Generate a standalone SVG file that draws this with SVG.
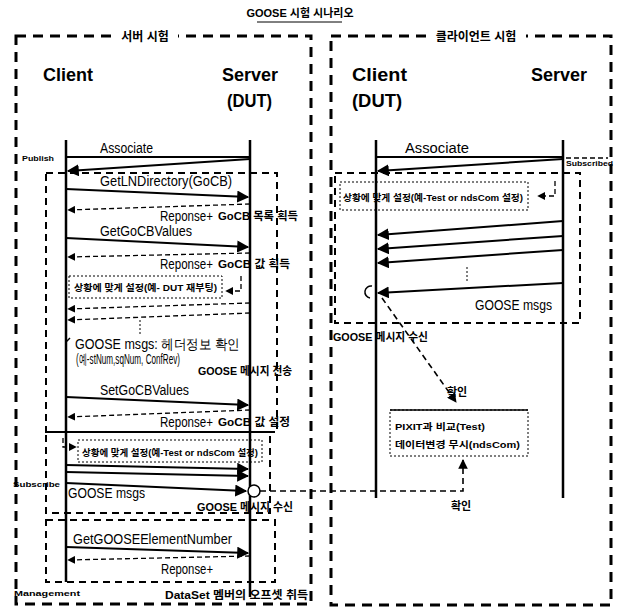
<svg xmlns="http://www.w3.org/2000/svg" width="617" height="616" viewBox="0 0 617 616">
<defs>
<style>
.outer{fill:none;stroke:#000;stroke-width:3;stroke-dasharray:10 7}
.inner{fill:none;stroke:#000;stroke-width:2;stroke-dasharray:7 5}
.dot{fill:none;stroke:#000;stroke-width:1;stroke-dasharray:2 2}
.life{stroke:#000;stroke-width:2.5}
.msg{stroke:#000;stroke-width:2;fill:none}
.ret{stroke:#000;stroke-width:1.3;stroke-dasharray:5 3;fill:none}
.lnk{stroke:#000;stroke-width:1.6;stroke-dasharray:6 4;fill:none}
.hd{font-family:"Liberation Sans",Arial,sans-serif;font-weight:bold;font-size:18px;fill:#000}
.m{font-family:"Liberation Sans",Arial,sans-serif;font-size:14px;fill:#000}
.kb{font-family:"Liberation Sans","Noto Sans CJK KR",sans-serif;font-weight:bold;font-size:11px;fill:#000}
.ks{font-family:"Liberation Sans","Noto Sans CJK KR",sans-serif;font-weight:bold;font-size:9.5px;fill:#000}
.lb{font-family:"Liberation Sans",Arial,sans-serif;font-weight:bold;font-size:8px;fill:#000}
.tt{font-family:"Liberation Sans","Noto Sans CJK KR",sans-serif;font-weight:bold;font-size:12px;fill:#000}
</style>
<marker id="ah" viewBox="0 0 10 10" refX="9" refY="5" markerWidth="6" markerHeight="6" orient="auto-start-reverse">
<path d="M0,0 L10,5 L0,10 z" fill="#000"/>
</marker>
</defs>
<rect width="617" height="616" fill="#fff"/>

<!-- page title -->
<g id="title">
<text x="300" y="17" text-anchor="middle" class="kb" font-size="10">GOOSE 시험 시나리오</text>
<line x1="257" y1="22" x2="342" y2="22" stroke="#000" stroke-width="1"/>
</g>

<!-- frames -->
<g id="frame-server-test">
<rect class="outer" x="16" y="36" width="295" height="568"/>
<rect x="112" y="28" width="66" height="16" fill="#fff"/>
<text x="145" y="41" text-anchor="middle" class="tt">서버 시험</text>
</g>
<g id="frame-client-test">
<rect class="outer" x="331" y="36" width="280" height="569"/>
<rect x="426" y="28" width="100" height="16" fill="#fff"/>
<text x="476" y="41" text-anchor="middle" class="tt">클라이언트 시험</text>
</g>

<g id="phase-publish">
<rect class="inner" x="46" y="173" width="231" height="259"/>
<text x="22" y="161" class="lb" textLength="32" lengthAdjust="spacingAndGlyphs">Publish</text>
</g>
<g id="phase-subscribe">
<rect class="inner" x="46" y="432" width="224" height="81"/>
<text x="13" y="487" class="lb" textLength="47" lengthAdjust="spacingAndGlyphs">Subscribe</text>
</g>
<g id="phase-management">
<rect class="inner" x="46" y="520" width="229" height="62"/>
<text x="14" y="596" class="lb" textLength="66" lengthAdjust="spacingAndGlyphs">Management</text>
</g>
<g id="phase-subscribed">
<rect class="inner" x="335" y="173" width="245" height="150" stroke-width="1.6"/>
<text x="566" y="166" class="lb" font-size="7" textLength="47" lengthAdjust="spacingAndGlyphs">Subscribed</text>
</g>

<!-- participants -->
<g id="client-left">
<text x="43" y="81" class="hd" textLength="50" lengthAdjust="spacingAndGlyphs">Client</text>
<line class="life" x1="66" y1="140" x2="66" y2="582"/>
</g>
<g id="server-left">
<text x="222" y="81" class="hd" textLength="56" lengthAdjust="spacingAndGlyphs">Server</text>
<text x="227" y="107" class="hd" textLength="45" lengthAdjust="spacingAndGlyphs">(DUT)</text>
<line class="life" x1="250" y1="140" x2="250" y2="597"/>
</g>
<g id="client-right">
<text x="352" y="81" class="hd" textLength="55" lengthAdjust="spacingAndGlyphs" fill="#222">Client</text>
<text x="352" y="107" class="hd" textLength="50" lengthAdjust="spacingAndGlyphs" fill="#222">(DUT)</text>
<line class="life" x1="376" y1="140" x2="376" y2="498"/>
</g>
<g id="server-right">
<text x="531" y="81" class="hd" textLength="56" lengthAdjust="spacingAndGlyphs">Server</text>
<line class="life" x1="563" y1="140" x2="563" y2="498"/>
</g>

<!-- notes -->
<g id="note-reboot">
<rect class="dot" x="69" y="276" width="153" height="22"/>
<text x="74" y="291" class="ks" textLength="143" lengthAdjust="spacingAndGlyphs">상황에 맞게 설정(예- DUT 재부팅)</text>
</g>
<g id="note-sub-left">
<rect class="dot" x="78" y="440" width="184" height="22"/>
<text x="82" y="456" class="ks" textLength="176" lengthAdjust="spacingAndGlyphs">상황에 맞게 설정(예-Test or ndsCom 설정)</text>
</g>
<g id="note-sub-right">
<rect class="dot" x="340" y="182" width="188" height="28"/>
<text x="343" y="201" class="ks" font-size="10" textLength="180" lengthAdjust="spacingAndGlyphs">상황에 맞게 설정(예-Test or ndsCom 설정)</text>
</g>
<g id="note-pixit">
<rect class="dot" x="390" y="410" width="138" height="46"/>
<line x1="390" y1="410" x2="528" y2="410" stroke="#000" stroke-width="1.5"/>
<text x="395" y="430" class="ks" font-size="10" textLength="90" lengthAdjust="spacingAndGlyphs">PIXIT과 비교(Test)</text>
<text x="395" y="448" class="ks" font-size="10" textLength="125" lengthAdjust="spacingAndGlyphs">데이터변경 무시(ndsCom)</text>
</g>

<!-- connectors -->
<g id="connectors">
<!-- left: server test -->
<line class="msg" x1="66" y1="157" x2="250" y2="157"/>
<text x="100" y="153" class="m" font-size="13" textLength="53" lengthAdjust="spacingAndGlyphs">Associate</text>
<line class="msg" x1="250" y1="159" x2="68" y2="171" marker-end="url(#ah)"/>

<line class="msg" x1="66" y1="189" x2="248" y2="197" marker-end="url(#ah)"/>
<text x="100" y="186" class="m" textLength="132" lengthAdjust="spacingAndGlyphs">GetLNDirectory(GoCB)</text>
<line class="ret" x1="250" y1="204" x2="68" y2="210" marker-end="url(#ah)"/>
<text x="160" y="221" class="m" textLength="53" lengthAdjust="spacingAndGlyphs">Reponse+</text>
<text x="218" y="220" class="kb" textLength="80" lengthAdjust="spacingAndGlyphs">GoCB 목록 획득</text>

<line class="msg" x1="66" y1="238" x2="248" y2="247" marker-end="url(#ah)"/>
<text x="100" y="236" class="m" textLength="92" lengthAdjust="spacingAndGlyphs">GetGoCBValues</text>
<line class="ret" x1="250" y1="253" x2="68" y2="257" marker-end="url(#ah)"/>
<text x="160" y="269" class="m" textLength="53" lengthAdjust="spacingAndGlyphs">Reponse+</text>
<text x="218" y="268" class="kb" textLength="72" lengthAdjust="spacingAndGlyphs">GoCB 값 획득</text>

<path class="ret" d="M241,276 L241,291 L226,291" marker-end="url(#ah)"/>

<line class="ret" x1="250" y1="303" x2="68" y2="309" marker-end="url(#ah)"/>
<line class="ret" x1="250" y1="313" x2="68" y2="320" marker-end="url(#ah)"/>
<line class="dot" x1="140" y1="320" x2="140" y2="334"/>
<path d="M66,342 L70,338" stroke="#000" stroke-width="1.5"/>
<text x="75" y="349" class="m" font-size="14" textLength="165" lengthAdjust="spacingAndGlyphs">GOOSE msgs: 헤더정보 확인</text>
<text x="76" y="364" class="m" font-size="6" textLength="104" lengthAdjust="spacingAndGlyphs">(예-stNum,sqNum, ConfRev)</text>
<text x="198" y="375" class="kb" font-size="10.5" textLength="94" lengthAdjust="spacingAndGlyphs">GOOSE 메시지 전송</text>

<line class="msg" x1="66" y1="397" x2="248" y2="405" marker-end="url(#ah)"/>
<text x="100" y="395" class="m" textLength="89" lengthAdjust="spacingAndGlyphs">SetGoCBValues</text>
<line class="ret" x1="250" y1="410" x2="68" y2="417" marker-end="url(#ah)"/>
<text x="160" y="427" class="m" textLength="53" lengthAdjust="spacingAndGlyphs">Reponse+</text>
<text x="218" y="426" class="kb" textLength="72" lengthAdjust="spacingAndGlyphs">GoCB 값 설정</text>

<path class="ret" d="M63,438 L63,447 L76,447" marker-end="url(#ah)"/>
<line class="msg" x1="66" y1="465" x2="248" y2="469" marker-end="url(#ah)"/>
<line class="msg" x1="66" y1="472" x2="248" y2="476" marker-end="url(#ah)"/>
<line class="msg" x1="66" y1="483" x2="246" y2="491" marker-end="url(#ah)"/>
<text x="68" y="498" class="m" textLength="77" lengthAdjust="spacingAndGlyphs">GOOSE msgs</text>
<text x="197" y="511" class="kb" textLength="96" lengthAdjust="spacingAndGlyphs">GOOSE 메시지 수신</text>
<circle cx="254" cy="491" r="6" fill="#fff" stroke="#000" stroke-width="1.5"/>

<line class="msg" x1="66" y1="547" x2="248" y2="553" marker-end="url(#ah)"/>
<text x="73" y="544" class="m" textLength="159" lengthAdjust="spacingAndGlyphs">GetGOOSEElementNumber</text>
<line class="ret" x1="250" y1="556" x2="68" y2="560" marker-end="url(#ah)"/>
<text x="161" y="574" class="m" textLength="52" lengthAdjust="spacingAndGlyphs">Reponse+</text>
<text x="165" y="599" class="kb" textLength="143" lengthAdjust="spacingAndGlyphs">DataSet 멤버의 오프셋 취득</text>

<!-- right: client test -->
<line class="msg" x1="376" y1="157" x2="563" y2="157"/>
<text x="405" y="153" class="m" font-size="13" textLength="64" lengthAdjust="spacingAndGlyphs">Associate</text>
<line class="msg" x1="563" y1="159" x2="378" y2="171" marker-end="url(#ah)"/>
<line class="ret" x1="566" y1="158" x2="608" y2="158"/>
<path class="ret" d="M555,181 L555,196 L538,196" marker-end="url(#ah)"/>
<line class="msg" x1="563" y1="221" x2="378" y2="235" marker-end="url(#ah)"/>
<line class="msg" x1="563" y1="236" x2="378" y2="249" marker-end="url(#ah)"/>
<line class="msg" x1="563" y1="250" x2="378" y2="263" marker-end="url(#ah)"/>
<line class="dot" x1="467" y1="267" x2="467" y2="283"/>
<line class="msg" x1="563" y1="283" x2="378" y2="293" marker-end="url(#ah)"/>
<text x="475" y="310" class="m" textLength="77" lengthAdjust="spacingAndGlyphs">GOOSE msgs</text>
<path d="M372,286 A6,6 0 0 0 370,298" fill="none" stroke="#000" stroke-width="1.5"/>
<text x="333" y="341" class="kb" textLength="95" lengthAdjust="spacingAndGlyphs">GOOSE 메시지 수신</text>
<line class="lnk" x1="382" y1="298" x2="456" y2="402" marker-end="url(#ah)"/>
<text x="447" y="396" class="kb" font-size="10">확인</text>

<!-- cross link -->
<path class="lnk" d="M260,491 L463,491 L463,460" marker-end="url(#ah)"/>
<text x="451" y="510" class="kb" font-size="10">확인</text>
</g>
</svg>
